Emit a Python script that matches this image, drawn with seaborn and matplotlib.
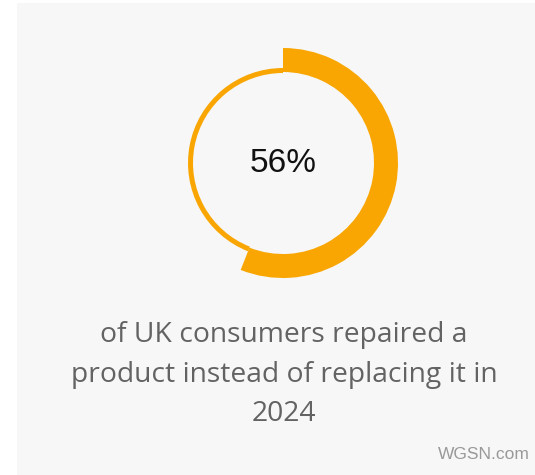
import matplotlib
matplotlib.use("Agg")
import matplotlib.pyplot as plt
from matplotlib.patches import Rectangle
import seaborn as sns

# Data
share_repaired = [56, 44]
share_labels = ["Repaired", "Other"]
center_label = "56%"
caption_lines = ["of UK consumers repaired a",
                 "product instead of replacing it in",
                 "2024"]
source = "WGSN.com"

sns.set_theme(style="white")
plt.rcParams['font.family'] = ['Open Sans', 'DejaVu Sans']

W, H = 535, 475
fig = plt.figure(figsize=(W / 100, H / 100), dpi=100, facecolor="white")

# panel background
fig.patches.append(Rectangle((17 / W, 0), (W - 17) / W, (H - 3) / H,
                             transform=fig.transFigure, facecolor="#f7f7f7",
                             edgecolor="none", zorder=-10))

orange = "#F9A602"
cx, cy, R = 283, 163, 115
ax = fig.add_axes([(cx - R) / W, (H - cy - R) / H, 2 * R / W, 2 * R / H])
ax.set_facecolor("none")
ax.set_zorder(5)

# thin ring for remainder
ax.pie(share_repaired, startangle=90, counterclock=False, radius=95 / 115,
       colors=[(0, 0, 0, 0), orange], wedgeprops=dict(width=5 / 115, linewidth=0))
# thick arc for share
ax.pie(share_repaired, startangle=90, counterclock=False, radius=1.0,
       colors=[orange, (0, 0, 0, 0)], wedgeprops=dict(width=24 / 115, linewidth=0))
ax.set_xlim(-1, 1)
ax.set_ylim(-1, 1)
ax.set_aspect("equal")
ax.axis("off")

ax.text(0, 0, center_label, ha="center", va="center", fontsize=24,
        color="#111111", family=["Liberation Sans", "DejaVu Sans"])

baselines = [342, 382, 421]
for line, yb in zip(caption_lines, baselines):
    fig.text(284 / W, 1 - yb / H, line, ha="center", va="baseline",
             fontsize=20.3, color="#636363")

fig.text(530 / W, 1 - 459 / H, source, ha="right", va="baseline",
         fontsize=12.5, color="#999999", family=["Liberation Sans", "DejaVu Sans"])

fig.savefig("out.png", dpi=100, facecolor="white")
